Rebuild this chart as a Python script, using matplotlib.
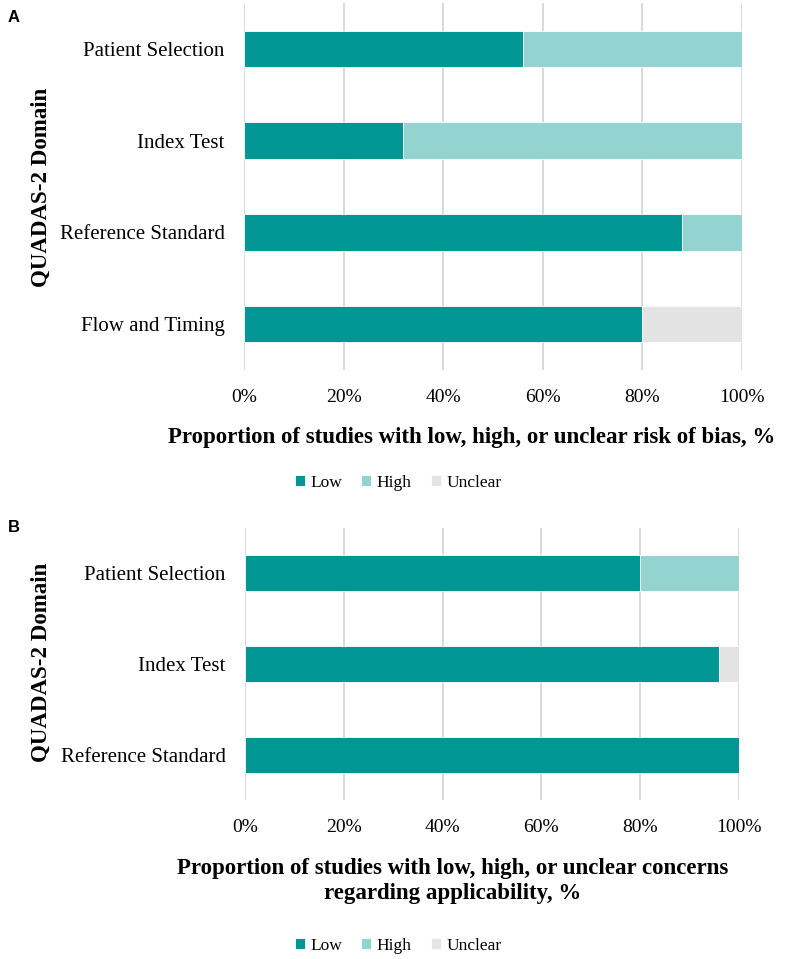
import matplotlib
matplotlib.use('Agg')
import matplotlib.pyplot as plt
import numpy as np

# QUADAS-2 risk of bias (A) and applicability concerns (B), % of studies
domains_a = ['Patient Selection', 'Index Test', 'Reference Standard', 'Flow and Timing']
low_a = [56, 32, 88, 80]
high_a = [44, 68, 12, 0]
unclear_a = [0, 0, 0, 20]

domains_b = ['Patient Selection', 'Index Test', 'Reference Standard']
low_b = [80, 96, 100]
high_b = [20, 0, 0]
unclear_b = [0, 4, 0]

xticks = [0, 20, 40, 60, 80, 100]
series_names = ['Low', 'High', 'Unclear']
colors = ['#009694', '#93D3D0', '#E3E3E3']

plt.rcParams['font.family'] = ['Liberation Serif', 'DejaVu Serif']

W, H = 785, 959
fig = plt.figure(figsize=(W / 100, H / 100), dpi=100)


def px_axes(left, top, right, bottom):
    return fig.add_axes([left / W, 1 - bottom / H, (right - left) / W, (bottom - top) / H])


def draw_panel(ax, domains, low, high, unclear):
    y = np.arange(len(domains))
    left = np.zeros(len(domains))
    bars = []
    for vals, col, name in zip([low, high, unclear], colors, series_names):
        b = ax.barh(y, vals, left=left, height=0.4, color=col, label=name,
                    edgecolor='white', linewidth=0.6, zorder=3)
        bars.append(b)
        left = left + np.array(vals)
    ax.set_xlim(0, 100)
    ax.set_ylim(len(domains) - 0.5, -0.5)
    ax.set_xticks(xticks)
    ax.set_xticklabels([f'{t}%' for t in xticks], fontsize=14)
    ax.set_yticks(y)
    ax.set_yticklabels(domains, fontsize=15)
    ax.tick_params(axis='both', length=0)
    ax.tick_params(axis='x', pad=14)
    ax.tick_params(axis='y', pad=14)
    ax.grid(axis='x', color='#D9D9D9', linewidth=1.4, zorder=0)
    ax.set_axisbelow(True)
    for s in ax.spines.values():
        s.set_visible(False)
    return bars


ax_a = px_axes(244, 3, 742, 370)
bars_a = draw_panel(ax_a, domains_a, low_a, high_a, unclear_a)

ax_b = px_axes(245, 528, 739, 800)
bars_b = draw_panel(ax_b, domains_b, low_b, high_b, unclear_b)

# panel letters
fig.text(14 / W, 1 - 18 / H, 'A', family='Liberation Sans', fontweight='bold',
         fontsize=12, ha='center', va='center')
fig.text(14 / W, 1 - 527 / H, 'B', family='Liberation Sans', fontweight='bold',
         fontsize=12, ha='center', va='center')

# y axis titles
fig.text(41 / W, 1 - 187 / H, 'QUADAS-2 Domain', rotation=90, fontweight='bold',
         fontsize=16.5, ha='center', va='center')
fig.text(41 / W, 1 - 662 / H, 'QUADAS-2 Domain', rotation=90, fontweight='bold',
         fontsize=16.5, ha='center', va='center')

# x axis titles
fig.text(472 / W, 1 - 437 / H,
         'Proportion of studies with low, high, or unclear risk of bias, %',
         fontweight='bold', fontsize=16.5, ha='center', va='center')
fig.text(453 / W, 1 - 881 / H,
         'Proportion of studies with low, high, or unclear concerns\nregarding applicability, %',
         fontweight='bold', fontsize=16.5, ha='center', va='center', linespacing=1.25)

# legends
for yy in (483, 946):
    fig.legend(handles=bars_a, labels=series_names, loc='center',
               bbox_to_anchor=(398 / W, 1 - yy / H), ncol=3, frameon=False,
               fontsize=12.5, handlelength=0.6, handleheight=0.6,
               handletextpad=0.3, columnspacing=1.1)

fig.savefig('out.png', dpi=100)
